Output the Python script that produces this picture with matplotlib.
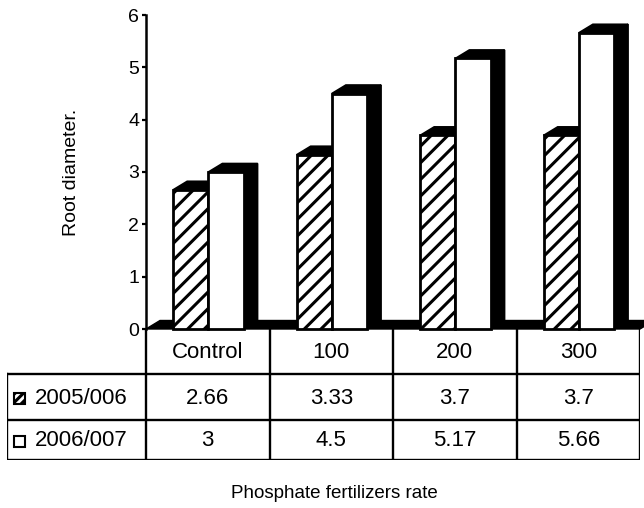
import numpy as np
import matplotlib.pyplot as plt
from matplotlib.patches import Polygon, Rectangle

plt.rcParams['font.family'] = ['Liberation Sans', 'DejaVu Sans']
plt.rcParams['hatch.linewidth'] = 2.2

rates = ['Control', '100', '200', '300']
seasons = ['2005/006', '2006/007']
root_0506 = [2.66, 3.33, 3.7, 3.7]
root_0607 = [3, 4.5, 5.17, 5.66]
values_text = [['2.66', '3.33', '3.7', '3.7'],
               ['3', '4.5', '5.17', '5.66']]

W, H = 644, 508
fig = plt.figure(figsize=(W / 100, H / 100), dpi=100)

# main plot area (pixel box -> figure fraction)
x_l, x_r, y_top, y_zero = 146, 640, 15, 329
ax = fig.add_axes([x_l / W, 1 - y_zero / H, (x_r - x_l) / W, (y_zero - y_top) / H])
ax.set_xlim(0, 4)
ax.set_ylim(0, 6)

px_x = (x_r - x_l) / 4.0
px_y = (y_zero - y_top) / 6.0
dx = 14 / px_x
dy = 8.5 / px_y

# black floor of the 3d box
ax.add_patch(Polygon([(0, 0), (4, 0), (4 + dx, dy), (dx, dy)], closed=True,
                     facecolor='black', edgecolor='black', lw=1, clip_on=False, zorder=1))

bw = 0.285
off = 0.22
idx = np.arange(len(rates))


def bar3d(xs, vals, hatch, z):
    # side and top faces are solid black, front face comes from ax.bar
    for x0, h in zip(xs, vals):
        side = [(x0 + bw, 0), (x0 + bw + dx, dy), (x0 + bw + dx, h + dy), (x0 + bw, h)]
        top = [(x0, h), (x0 + bw, h), (x0 + bw + dx, h + dy), (x0 + dx, h + dy)]
        ax.add_patch(Polygon(side, closed=True, facecolor='black', edgecolor='black',
                             lw=1.2, clip_on=False, zorder=z))
        ax.add_patch(Polygon(top, closed=True, facecolor='black', edgecolor='black',
                             lw=1.2, clip_on=False, zorder=z))
    ax.bar(xs, vals, width=bw, align='edge', facecolor='white', edgecolor='black',
           lw=2.0, hatch=hatch, zorder=z + 0.5, clip_on=False)


bar3d(idx + off, root_0506, '//', 3)
bar3d(idx + off + bw, root_0607, None, 5)

for s in ['top', 'right', 'bottom']:
    ax.spines[s].set_visible(False)
ax.spines['left'].set_linewidth(1.8)
ax.set_xticks([])
ax.set_yticks(range(7))
ax.tick_params(axis='y', direction='out', length=3, width=1.6, pad=2, labelsize=14)
ax.patch.set_alpha(0)

# data table under the plot
t_l, t_b = 7, 460
tab = fig.add_axes([t_l / W, 1 - t_b / H, (x_r - t_l) / W, (t_b - y_zero) / H])
lab_w = (x_l - t_l) / px_x
tab.set_xlim(-lab_w, 4)
row_edges = [0, 45, 91, 131]
tab.set_ylim(row_edges[-1], 0)
tab.axis('off')

lk = dict(color='black', lw=1.7, solid_capstyle='projecting')
# header row: only the column dividers
for c in range(5):
    tab.plot([c, c], [0, row_edges[-1]], **lk)
for r in row_edges[1:]:
    tab.plot([-lab_w, 4], [r, r], **lk)
tab.plot([-lab_w, -lab_w], [row_edges[1], row_edges[-1]], **lk)

fs = 16
for c, name in enumerate(rates):
    tab.text(c + 0.5, (row_edges[0] + row_edges[1]) / 2 + 1, name, ha='center', va='center', fontsize=fs)
for r in range(2):
    yc = (row_edges[r + 1] + row_edges[r + 2]) / 2 + 1
    for c in range(4):
        tab.text(c + 0.5, yc, values_text[r][c], ha='center', va='center', fontsize=fs)
    tab.text(-lab_w + 28 / px_x, yc, seasons[r], ha='left', va='center', fontsize=fs)
    sq = 11
    tab.add_patch(Rectangle((-lab_w + 7 / px_x, yc - sq / 2), sq / px_x, sq,
                            facecolor='white', edgecolor='black', lw=1.5,
                            hatch='////' if r == 0 else None))

fig.text(334 / W, 1 - 494 / H, 'Phosphate fertilizers rate', ha='center', va='center', fontsize=13.5)
fig.text(72 / W, 1 - 172 / H, 'Root diameter.', rotation=90, ha='center', va='center', fontsize=14)

fig.savefig('out.png', dpi=100)
